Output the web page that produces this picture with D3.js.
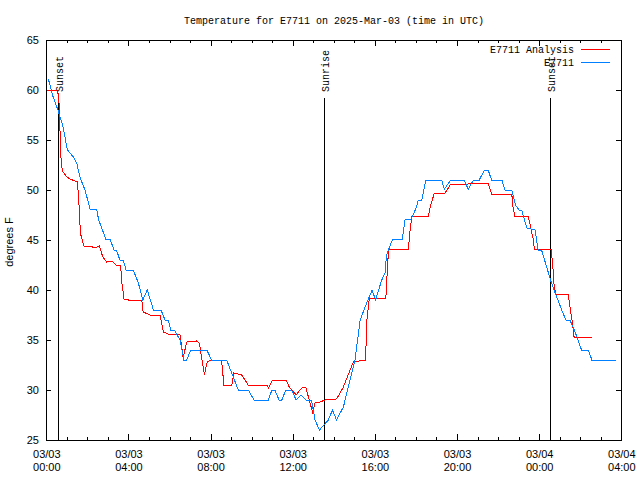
<!DOCTYPE html>
<html>
<head>
<meta charset="utf-8">
<script src="https://cdn.jsdelivr.net/npm/d3@7"></script>
<style>
  html, body { margin: 0; padding: 0; background: #fff; }
  svg { display: block; }
  .mono { font-family: "Liberation Mono", "DejaVu Sans Mono", monospace; font-size: 10px; }
  .sans { font-family: "Liberation Sans", Arial, sans-serif; font-size: 11px; }
</style>
</head>
<body>
<svg id="chart" width="640" height="480"></svg>
<script>
// ---------------- data ----------------
const titleText = "Temperature for E7711 on 2025-Mar-03 (time in UTC)";
const yLabelText = "degrees F";
const seriesNames = ["E7711 Analysis", "E7711"];
const seriesColors = ["#ff0000", "#0080ff"];

const xDomain = ["03-03 00:00", "03-04 04:00"];
const yDomain = [25, 65];
const yTicks = [25, 30, 35, 40, 45, 50, 55, 60, 65];

const eventNames = ["Sunset", "Sunrise", "Sunset"];
const eventTimes = ["03-03 00:33", "03-03 13:32", "03-04 00:32"];

const analysisTimes = [
  "03-03 00:03","03-03 00:25","03-03 00:31","03-03 00:35","03-03 00:38","03-03 00:40","03-03 00:42","03-03 00:45",
  "03-03 00:49","03-03 01:00","03-03 01:09","03-03 01:31","03-03 01:33","03-03 01:36","03-03 01:38","03-03 01:41",
  "03-03 01:50","03-03 02:08","03-03 02:22","03-03 02:35","03-03 02:45","03-03 02:56","03-03 03:11","03-03 03:24",
  "03-03 03:37","03-03 03:41","03-03 03:47","03-03 04:00","03-03 04:39","03-03 04:43","03-03 05:03","03-03 05:32",
  "03-03 05:42","03-03 05:56","03-03 06:31","03-03 06:40","03-03 06:50","03-03 07:19","03-03 07:27","03-03 07:42",
  "03-03 07:50","03-03 08:03","03-03 08:32","03-03 08:39","03-03 09:02","03-03 09:08","03-03 09:31","03-03 09:50",
  "03-03 10:44","03-03 10:49","03-03 11:01","03-03 11:40","03-03 11:50","03-03 12:10","03-03 12:21","03-03 12:31",
  "03-03 12:39","03-03 12:48","03-03 12:58","03-03 13:05","03-03 13:20","03-03 13:34","03-03 14:08","03-03 14:28",
  "03-03 14:57","03-03 15:33","03-03 15:36","03-03 15:44","03-03 16:32","03-03 16:36","03-03 16:39","03-03 16:42",
  "03-03 17:38","03-03 17:43","03-03 17:48","03-03 18:36","03-03 18:43","03-03 18:54","03-03 19:25","03-03 19:42",
  "03-03 20:33","03-03 20:48","03-03 21:31","03-03 21:41","03-03 22:40","03-03 22:44","03-03 22:49","03-03 23:28",
  "03-03 23:35","03-03 23:43","03-03 23:46","03-04 00:35","03-04 00:40","03-04 00:44","03-04 00:49","03-04 01:25",
  "03-04 01:30","03-04 01:36","03-04 01:42","03-04 02:34"
];
const analysisValues = [
  60.0,60.0,59.9,59.6,58.3,56.0,53.7,52.3,
  51.8,51.3,51.1,50.8,49.8,48.3,46.7,45.5,
  44.4,44.4,44.2,44.4,43.3,42.8,42.9,42.5,
  42.5,40.7,39.1,39.0,39.0,37.8,37.5,37.5,
  35.8,35.6,35.5,33.2,34.8,34.9,34.7,31.5,
  32.8,33.0,33.0,30.5,30.5,31.7,31.5,30.5,
  30.5,30.2,31.0,31.0,30.3,29.5,30.0,30.3,
  30.2,29.0,27.8,28.7,28.8,29.0,29.1,30.3,
  32.8,33.0,36.8,39.2,39.1,41.8,43.5,44.1,
  44.1,46.0,47.4,47.4,48.5,49.7,49.7,50.6,
  50.6,50.7,50.7,49.6,49.6,48.2,47.4,47.4,
  46.3,45.0,44.1,44.1,42.3,40.3,39.6,39.6,
  38.3,37.0,35.3,35.3
];

const stationTimes = [
  "03-03 00:06","03-03 00:20","03-03 00:33","03-03 00:50","03-03 01:00","03-03 01:04","03-03 01:19","03-03 01:29",
  "03-03 01:38","03-03 01:53","03-03 02:08","03-03 02:27","03-03 02:33","03-03 02:54","03-03 03:06","03-03 03:18",
  "03-03 03:26","03-03 03:35","03-03 03:45","03-03 03:53","03-03 04:14","03-03 04:29","03-03 04:42","03-03 04:55",
  "03-03 05:13","03-03 05:35","03-03 05:47","03-03 05:56","03-03 06:04","03-03 06:14","03-03 06:31","03-03 06:42",
  "03-03 06:50","03-03 07:02","03-03 07:49","03-03 08:03","03-03 08:47","03-03 09:21","03-03 09:50","03-03 10:07",
  "03-03 10:49","03-03 10:59","03-03 11:08","03-03 11:20","03-03 11:28","03-03 11:40","03-03 11:57","03-03 12:10",
  "03-03 12:24","03-03 12:39","03-03 12:55","03-03 13:05","03-03 13:18","03-03 13:31","03-03 13:44","03-03 13:56",
  "03-03 14:08","03-03 14:28","03-03 15:02","03-03 15:17","03-03 15:36","03-03 15:52","03-03 16:02","03-03 16:20",
  "03-03 16:30","03-03 16:34","03-03 16:42","03-03 16:52","03-03 17:20","03-03 17:28","03-03 17:46","03-03 18:02",
  "03-03 18:07","03-03 18:17","03-03 18:29","03-03 19:15","03-03 19:23","03-03 19:42","03-03 20:20","03-03 20:33",
  "03-03 20:48","03-03 21:05","03-03 21:20","03-03 21:31","03-03 21:41","03-03 22:11","03-03 22:20","03-03 22:40",
  "03-03 22:51","03-03 23:01","03-03 23:09","03-03 23:24","03-03 23:48","03-03 23:57","03-04 00:07","03-04 00:22",
  "03-04 00:35","03-04 00:49","03-04 01:06","03-04 01:18","03-04 01:30","03-04 01:45","03-04 02:04","03-04 02:24",
  "03-04 02:34","03-04 03:44"
];
const stationValues = [
  61.1,59.3,58.1,56.2,54.2,53.9,53.3,52.7,
  51.3,50.0,48.1,48.1,47.0,45.1,45.1,44.0,
  43.9,43.0,43.0,42.0,42.0,40.7,39.0,40.0,
  38.0,38.0,37.0,37.0,36.0,36.0,35.0,33.0,
  33.0,34.0,34.0,33.0,33.0,30.0,30.0,29.0,
  29.0,30.0,30.0,29.0,29.0,30.0,30.0,29.0,
  29.5,29.0,29.0,27.0,26.0,26.5,27.0,28.0,
  27.0,28.3,33.0,37.0,38.7,40.0,39.0,41.0,
  41.7,43.5,44.2,45.1,45.1,47.0,47.1,48.3,
  49.0,49.0,51.0,51.0,50.1,51.0,51.0,50.1,
  51.0,51.0,52.0,52.0,51.0,51.0,50.0,50.0,
  48.5,48.0,48.0,46.2,46.0,44.0,44.0,42.3,
  40.8,39.5,38.0,37.0,37.0,35.8,34.0,34.0,
  33.0,33.0
];

// ---------------- chart ----------------
const parseT = d3.utcParse("%m-%d %H:%M");
const L = 46, R = 621, T = 40, B = 440;
const svg = d3.select("#chart");

const x = d3.scaleUtc().domain(xDomain.map(parseT)).range([L + 0.3, R + 0.3]);
const y = d3.scaleLinear().domain(yDomain).range([B, T]);

// title
svg.append("text").attr("class", "mono")
  .attr("x", (L + R) / 2 + 0.5).attr("y", 24)
  .attr("text-anchor", "middle").text(titleText);

// y label
svg.append("text").attr("class", "sans")
  .attr("transform", `translate(13,${242}) rotate(-90)`)
  .attr("text-anchor", "middle").text(yLabelText);

const majorX = d3.utcHour.every(4);
const minorX = d3.utcHour.every(1);

// bottom axis, minor ticks
svg.append("g").attr("transform", `translate(0,${B})`)
  .call(d3.axisBottom(x).ticks(minorX).tickSizeInner(-3).tickSizeOuter(0).tickFormat(""))
  .call(g => g.select(".domain").remove());
// bottom axis, major ticks + labels
const fmtD = d3.utcFormat("%m/%d"), fmtH = d3.utcFormat("%H:%M");
svg.append("g").attr("transform", `translate(0,${B})`)
  .call(d3.axisBottom(x).ticks(majorX).tickSizeInner(-6).tickSizeOuter(0))
  .call(g => g.select(".domain").remove())
  .call(g => g.selectAll(".tick text").each(function(d) {
    const t = d3.select(this).attr("y", null).attr("dy", null).text(null)
      .attr("class", "sans").attr("font-size", null).attr("font-family", null);
    t.append("tspan").attr("x", 0).attr("y", 18).text(fmtD(d));
    t.append("tspan").attr("x", 0).attr("y", 31).text(fmtH(d));
  }));
// top axis mirror ticks
svg.append("g").attr("transform", `translate(0,${T})`)
  .call(d3.axisTop(x).ticks(minorX).tickSizeInner(-3).tickSizeOuter(0).tickFormat(""))
  .call(g => g.select(".domain").remove());
svg.append("g").attr("transform", `translate(0,${T})`)
  .call(d3.axisTop(x).ticks(majorX).tickSizeInner(-6).tickSizeOuter(0).tickFormat(""))
  .call(g => g.select(".domain").remove());

// left axis
svg.append("g").attr("transform", `translate(${L},0)`)
  .call(d3.axisLeft(y).tickValues(yTicks).tickSizeInner(-5).tickSizeOuter(0).tickPadding(7))
  .call(g => g.select(".domain").remove())
  .call(g => g.selectAll(".tick text").attr("class", "sans").attr("font-size", null).attr("font-family", null));
// right axis mirror
svg.append("g").attr("transform", `translate(${R},0)`)
  .call(d3.axisRight(y).tickValues(yTicks).tickSizeInner(-5).tickSizeOuter(0).tickFormat(""))
  .call(g => g.select(".domain").remove());

svg.selectAll(".tick line").attr("stroke", "#000").attr("shape-rendering", "crispEdges");

// frame
svg.append("rect").attr("x", L + 0.5).attr("y", T + 0.5)
  .attr("width", R - L).attr("height", B - T)
  .attr("fill", "none").attr("stroke", "#000").attr("shape-rendering", "crispEdges");

// event lines
const events = eventNames.map((n, i) => ({ name: n, t: parseT(eventTimes[i]) }));
const ev = svg.append("g");
ev.selectAll("line").data(events).join("line")
  .attr("x1", d => Math.round(x(d.t)) + 0.5).attr("x2", d => Math.round(x(d.t)) + 0.5)
  .attr("y1", 98).attr("y2", B)
  .attr("stroke", "#000").attr("shape-rendering", "crispEdges");

// series lines
const line = d3.line().x(d => x(d.t)).y(d => y(d.v));
const series = [
  analysisTimes.map((t, i) => ({ t: parseT(t), v: analysisValues[i] })),
  stationTimes.map((t, i) => ({ t: parseT(t), v: stationValues[i] }))
];
svg.append("g").selectAll("path").data(series).join("path")
  .attr("d", line)
  .attr("fill", "none")
  .attr("stroke", (d, i) => seriesColors[i])
  .attr("stroke-width", 1)
  .attr("shape-rendering", "crispEdges");

// event labels (drawn after series, like original)
ev.selectAll("text").data(events).join("text")
  .attr("class", "mono")
  .attr("transform", d => `translate(${Math.round(x(d.t)) + 5},92) rotate(-90)`)
  .text(d => d.name);

// legend
const lg = svg.append("g");
seriesNames.forEach((n, i) => {
  const yy = 49 + i * 13;
  lg.append("text").attr("class", "mono").attr("x", 574).attr("y", yy + 4)
    .attr("text-anchor", "end").text(n);
  lg.append("line").attr("x1", 581).attr("x2", 610)
    .attr("y1", yy + 0.5).attr("y2", yy + 0.5)
    .attr("stroke", seriesColors[i]).attr("shape-rendering", "crispEdges");
});
</script>
</body>
</html>
